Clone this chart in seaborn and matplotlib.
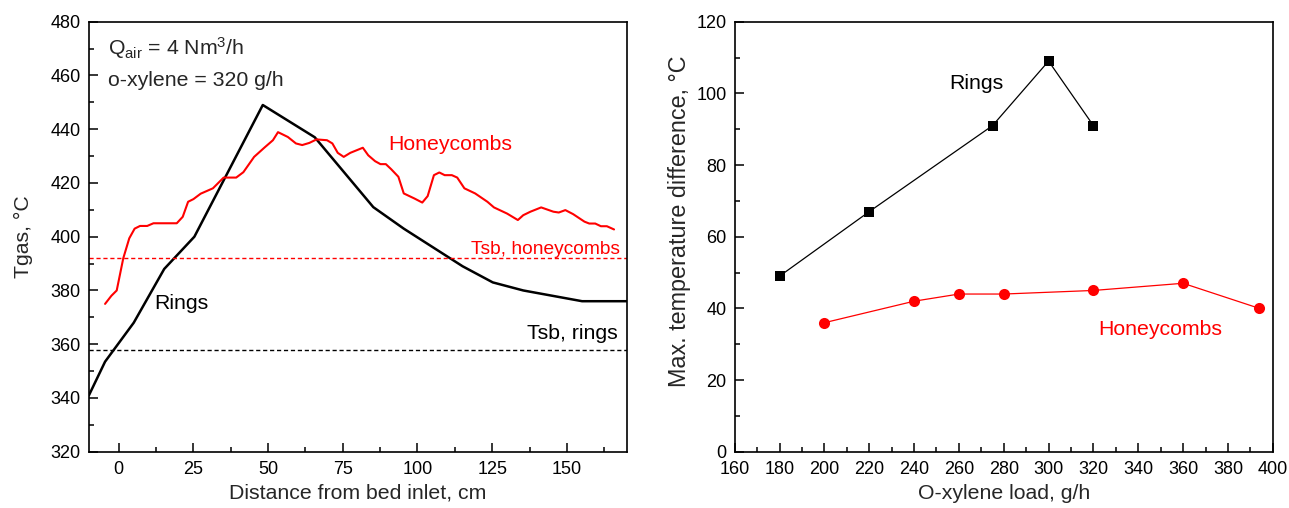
import numpy as np
import pandas as pd
import seaborn as sns
import matplotlib.pyplot as plt
from matplotlib.ticker import MultipleLocator

# left panel: gas temperature along the bed
rings_x = [-10, -4.6, 5.0, 15.2, 25.3, 48.2, 65.6, 85.2, 95.4, 115.1, 125.2, 135.4, 155.1, 170]
rings_t = [341, 353.5, 368, 388, 400, 449, 437, 411, 403, 389, 383, 380, 376, 376]

honey_x = [-4.6, -2.5, -0.7, 1.5, 3.5, 5.3, 7.1, 9.5, 11.6, 19.4, 21.4, 23.2, 25.0, 27.4,
           31.5, 35.1, 39.3, 41.7, 45.3, 48.8, 51.6, 53.3, 56.6, 59.3, 61.4, 63.8, 66.2,
           69.7, 71.5, 73.3, 75.3, 77.5, 81.7, 83.5, 85.8, 87.6, 89.4, 91.2, 93.6, 95.4,
           99.0, 101.6, 103.4, 105.5, 107.3, 109.1, 111.5, 113.3, 115.7, 119.3, 123.4,
           125.6, 130.0, 133.6, 135.4, 137.8, 141.4, 145.5, 147.3, 149.5, 152.1, 155.9,
           157.5, 159.5, 161.4, 163.4, 165.8]
honey_t = [375, 378, 380, 392, 399.4, 403, 404, 404, 405, 405, 407.4, 413, 414, 416,
           418, 422, 422, 424, 429.7, 433.2, 435.9, 438.9, 437.1, 434.7, 434.1, 434.9, 436.2,
           435.9, 434.7, 431.2, 429.7, 431.2, 433.1, 430.3, 428.1, 427, 427, 425.1, 422.3, 416.1,
           414.2, 412.7, 415.1, 422.9, 423.9, 422.9, 422.9, 422, 418, 416.1, 413,
           410.9, 408.6, 406.2, 408, 409.3, 410.9, 409.3, 409, 409.9, 408.4, 405.6,
           404.9, 404.9, 403.9, 403.9, 402.7]

tsb_honey = 392
tsb_rings = 358

# right panel: max temperature difference vs o-xylene load
load_rings = [180, 220, 275, 300, 320]
dt_rings = [49, 67, 91, 109, 91]
load_honey = [200, 240, 260, 280, 320, 360, 394]
dt_honey = [36, 42, 44, 44, 45, 47, 40]

sns.set_theme(style="ticks")
plt.rcParams['font.family'] = ['Liberation Sans', 'DejaVu Sans']
plt.rcParams['mathtext.fontset'] = 'custom'
plt.rcParams['mathtext.rm'] = 'Liberation Sans'
plt.rcParams['mathtext.it'] = 'Liberation Sans:italic'
plt.rcParams['axes.edgecolor'] = 'black'
plt.rcParams['axes.linewidth'] = 1.2
plt.rcParams['xtick.direction'] = 'in'
plt.rcParams['ytick.direction'] = 'in'
plt.rcParams['xtick.color'] = 'black'
plt.rcParams['ytick.color'] = 'black'

fs = 15.3   # labels and annotations
tfs = 13    # tick labels
fig = plt.figure(figsize=(12.89, 5.08), dpi=100)
ax1 = fig.add_axes([0.0690, 0.1108, 0.4171, 0.8465])
ax2 = fig.add_axes([0.5700, 0.1108, 0.4174, 0.8465])

left = pd.DataFrame({'x': rings_x, 'T': rings_t})
hc = pd.DataFrame({'x': honey_x, 'T': honey_t})
sns.lineplot(data=left, x='x', y='T', ax=ax1, color='black', lw=1.8, sort=False, estimator=None)
sns.lineplot(data=hc, x='x', y='T', ax=ax1, color='#ff0000', lw=1.5, sort=False, estimator=None)
ax1.axhline(tsb_honey, color='#ff0000', lw=1, ls=(0, (3, 2)))
ax1.axhline(tsb_rings, color='black', lw=1, ls=(0, (3, 2)))

ax1.set_xlim(-10, 170)
ax1.set_ylim(320, 480)
ax1.xaxis.set_major_locator(MultipleLocator(25))
ax1.xaxis.set_minor_locator(MultipleLocator(12.5))
ax1.yaxis.set_major_locator(MultipleLocator(20))
ax1.yaxis.set_minor_locator(MultipleLocator(10))
ax1.set_xlabel('Distance from bed inlet, cm', fontsize=fs)
ax1.set_ylabel('Tgas, °C', fontsize=fs)
ax1.xaxis.set_label_coords(0.5, -0.075)
ax1.yaxis.set_label_coords(-0.104, 0.5)

ax1.text(-3.5, 470.2, r'Q$_{\rm air}$ = 4 Nm$^{3}$/h', fontsize=fs, va='center', ha='left')
ax1.text(-3.5, 458.3, 'o-xylene = 320 g/h', fontsize=fs, va='center', ha='left')
ax1.text(90.3, 434.4, 'Honeycombs', fontsize=fs, color='#ff0000', va='center', ha='left')
ax1.text(12, 375.3, 'Rings', fontsize=fs, color='black', va='center', ha='left')
ax1.text(167, 364.1, 'Tsb, rings', fontsize=fs, color='black', va='center', ha='right')
ax1.text(167.7, 395.1, 'Tsb, honeycombs', fontsize=13.8, color='#ff0000', va='center', ha='right')

rdf = pd.DataFrame({'load': load_rings, 'dT': dt_rings})
hdf = pd.DataFrame({'load': load_honey, 'dT': dt_honey})
sns.lineplot(data=rdf, x='load', y='dT', ax=ax2, color='black', lw=0.9, marker='s',
             markersize=7, markeredgewidth=0, sort=False, estimator=None)
sns.lineplot(data=hdf, x='load', y='dT', ax=ax2, color='#ff0000', lw=0.9, marker='o',
             markersize=8, markeredgewidth=0, sort=False, estimator=None)

ax2.set_xlim(160, 400)
ax2.set_ylim(0, 120)
ax2.xaxis.set_major_locator(MultipleLocator(20))
ax2.xaxis.set_minor_locator(MultipleLocator(10))
ax2.yaxis.set_major_locator(MultipleLocator(20))
ax2.yaxis.set_minor_locator(MultipleLocator(10))
ax2.set_xlabel('O-xylene load, g/h', fontsize=fs)
ax2.set_ylabel('Max. temperature difference, °C', fontsize=16.8)
ax2.xaxis.set_label_coords(0.5, -0.075)
ax2.yaxis.set_label_coords(-0.081, 0.535)
ax2.text(255.7, 102.8, 'Rings', fontsize=fs, color='black', va='center', ha='left')
ax2.text(322.1, 34.0, 'Honeycombs', fontsize=fs, color='#ff0000', va='center', ha='left')

for ax in (ax1, ax2):
    for s in ax.spines.values():
        s.set_visible(True)
        s.set_color('black')
    ax.tick_params(which='major', length=6.5, width=1.1, labelsize=tfs)
    ax.tick_params(which='minor', length=3.6, width=1.1)
    ax.tick_params(axis='x', which='major', pad=7)
    ax.tick_params(axis='y', which='major', pad=6)
    ax.tick_params(top=False, right=False, which='both')
    ax.grid(False)

fig.savefig('out.png', dpi=100)
